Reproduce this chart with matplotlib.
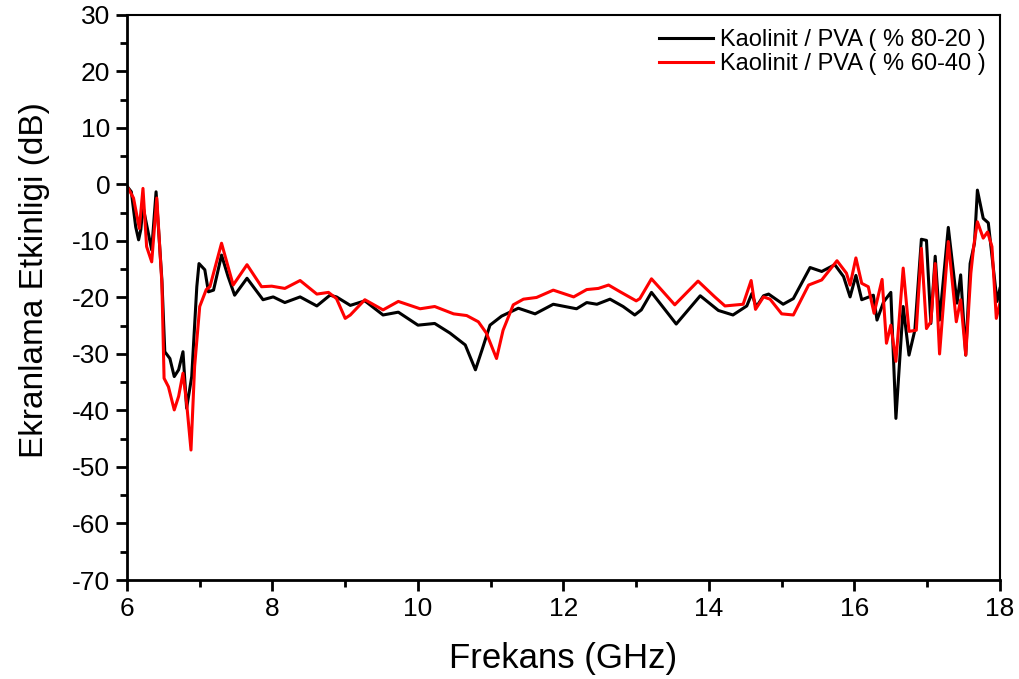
import matplotlib
matplotlib.use("Agg")
import matplotlib.pyplot as plt
from matplotlib.ticker import MultipleLocator

plt.rcParams['font.family'] = ['Liberation Sans', 'DejaVu Sans']
plt.rcParams['axes.unicode_minus'] = False

# Kaolinit / PVA (% 80-20)
freq_a = [6.0, 6.06, 6.12, 6.16, 6.19, 6.22, 6.34, 6.40, 6.48, 6.52, 6.59, 6.65, 6.71, 6.77,
          6.82, 6.89, 6.96, 6.99, 7.07, 7.12, 7.19, 7.30, 7.39, 7.48, 7.65, 7.87, 8.01, 8.17,
          8.38, 8.61, 8.79, 8.88, 9.07, 9.27, 9.52, 9.73, 10.0, 10.23, 10.44, 10.65, 10.79,
          10.88, 10.99, 11.15, 11.38, 11.61, 11.86, 12.18, 12.32, 12.46, 12.64, 12.82, 12.98,
          13.07, 13.21, 13.55, 13.88, 14.13, 14.33, 14.52, 14.59, 14.65, 14.75, 14.82, 15.02,
          15.16, 15.39, 15.55, 15.73, 15.85, 15.94, 16.02, 16.10, 16.26, 16.31, 16.40, 16.50,
          16.57, 16.67, 16.75, 16.83, 16.92, 16.99, 17.05, 17.11, 17.17, 17.29, 17.41, 17.46,
          17.53, 17.59, 17.65, 17.69, 17.77, 17.84, 17.96, 18.0]
se_a = [-0.3, -1.3, -7.5, -9.8, -8, -3.9, -11.6, -1.3, -16.9, -29.6, -30.8, -34, -32.8, -29.6,
        -39.6, -34, -18.1, -14, -15.1, -19, -18.7, -12.5, -16.3, -19.6, -16.6, -20.4, -19.9, -20.9,
        -19.9, -21.5, -19.6, -19.9, -21.4, -20.6, -23.1, -22.6, -24.9, -24.6, -26.3, -28.4, -32.8,
        -29.3, -24.9, -23.3, -21.9, -22.9, -21.2, -22, -20.9, -21.2, -20.3, -21.6, -23.1,
        -22.2, -19.1, -24.7, -19.7, -22.3, -23.1, -21.5, -19.3, -21.7, -19.7, -19.4, -21.2,
        -20.2, -14.7, -15.4, -14.2, -16.3, -19.9, -16.1, -20.4, -19.6, -24, -20.8, -19.1,
        -41.4, -21.6, -30.2, -25.8, -9.7, -9.9, -24.6, -12.7, -24, -7.6, -21, -16,
        -30.2, -14, -10.4, -1, -6, -6.8, -20.7, -18.4]

# Kaolinit / PVA (% 60-40)
freq_b = [6.0, 6.09, 6.17, 6.22, 6.27, 6.34, 6.41, 6.48, 6.51, 6.57, 6.65, 6.71, 6.77, 6.82,
          6.88, 6.93, 7.0, 7.09, 7.14, 7.30, 7.46, 7.65, 7.85, 7.99, 8.17, 8.38, 8.61, 8.77,
          8.88, 9.0, 9.07, 9.27, 9.52, 9.73, 10.03, 10.23, 10.49, 10.67, 10.83, 10.94, 11.08,
          11.17, 11.31, 11.45, 11.63, 11.86, 12.14, 12.32, 12.48, 12.62, 12.78, 13.0, 13.05,
          13.21, 13.35, 13.53, 13.85, 14.08, 14.22, 14.47, 14.58, 14.64, 14.75, 14.84, 15.0,
          15.16, 15.37, 15.55, 15.76, 15.89, 15.94, 16.02, 16.10, 16.19, 16.27, 16.38, 16.44,
          16.50, 16.57, 16.67, 16.75, 16.85, 16.92, 16.99, 17.05, 17.11, 17.17, 17.29, 17.40,
          17.46, 17.53, 17.60, 17.64, 17.69, 17.77, 17.83, 17.89, 17.95, 18.0]
se_b = [-0.3, -2.4, -7.8, -0.7, -11, -13.7, -2.4, -17.5, -34.3, -35.8, -39.9, -37.5, -33.4, -38.7,
        -47, -32.2, -21.6, -18.6, -18.1, -10.4, -17.8, -14.2, -18.1, -18, -18.4, -17, -19.4, -19.1,
        -20.2, -23.7, -23.1, -20.4, -22.2, -20.7, -22, -21.6, -22.9, -23.2, -24.3, -26.3, -30.8,
        -25.8, -21.3, -20.3, -20, -18.7, -19.9, -18.6, -18.4, -17.8, -19, -20.6, -20.2,
        -16.7, -18.7, -21.3, -17.1, -19.9, -21.5, -21.2, -17, -22.1, -19.9, -20.3, -22.9,
        -23.1, -17.8, -16.9, -13.5, -15.7, -17.8, -13, -17.5, -18.1, -22.8, -16.8, -28.1,
        -24.9, -31.3, -14.8, -26, -25.8, -11.3, -25.5, -24.3, -14, -30, -10.1, -24.3,
        -20.4, -30.2, -15.7, -10.9, -6.6, -9.5, -8.4, -11, -23.7, -21]

labels = ['Kaolinit / PVA ( % 80-20 )', 'Kaolinit / PVA ( % 60-40 )']

fig = plt.figure(figsize=(10.19, 6.79), dpi=100)
ax = fig.add_axes([0.1246, 0.1458, 0.8567, 0.8322])

ax.plot(freq_a, se_a, color='black', lw=2.2, label=labels[0])
ax.plot(freq_b, se_b, color='red', lw=2.2, label=labels[1])

ax.set_xlim(6, 18)
ax.set_ylim(-70, 30)
ax.xaxis.set_major_locator(MultipleLocator(2))
ax.xaxis.set_minor_locator(MultipleLocator(1))
ax.yaxis.set_major_locator(MultipleLocator(10))
ax.yaxis.set_minor_locator(MultipleLocator(5))
ax.tick_params(which='major', direction='out', length=8, width=2, labelsize=19, pad=4)
ax.tick_params(which='minor', direction='out', length=5, width=2)
for s in ['left', 'bottom']:
    ax.spines[s].set_linewidth(2)
for s in ['top', 'right']:
    ax.spines[s].set_linewidth(1.5)

ax.set_xlabel('Frekans (GHz)', fontsize=25, labelpad=15)
ax.set_ylabel('Ekranlama Etkinligi (dB)', fontsize=24, labelpad=16)
ax.yaxis.label.set_y(0.53)

ax.legend(loc='upper right', frameon=False, fontsize=17, handlelength=2.3,
          handletextpad=0.3, borderaxespad=0.2, labelspacing=0.1)

fig.savefig('out.png', dpi=100)
